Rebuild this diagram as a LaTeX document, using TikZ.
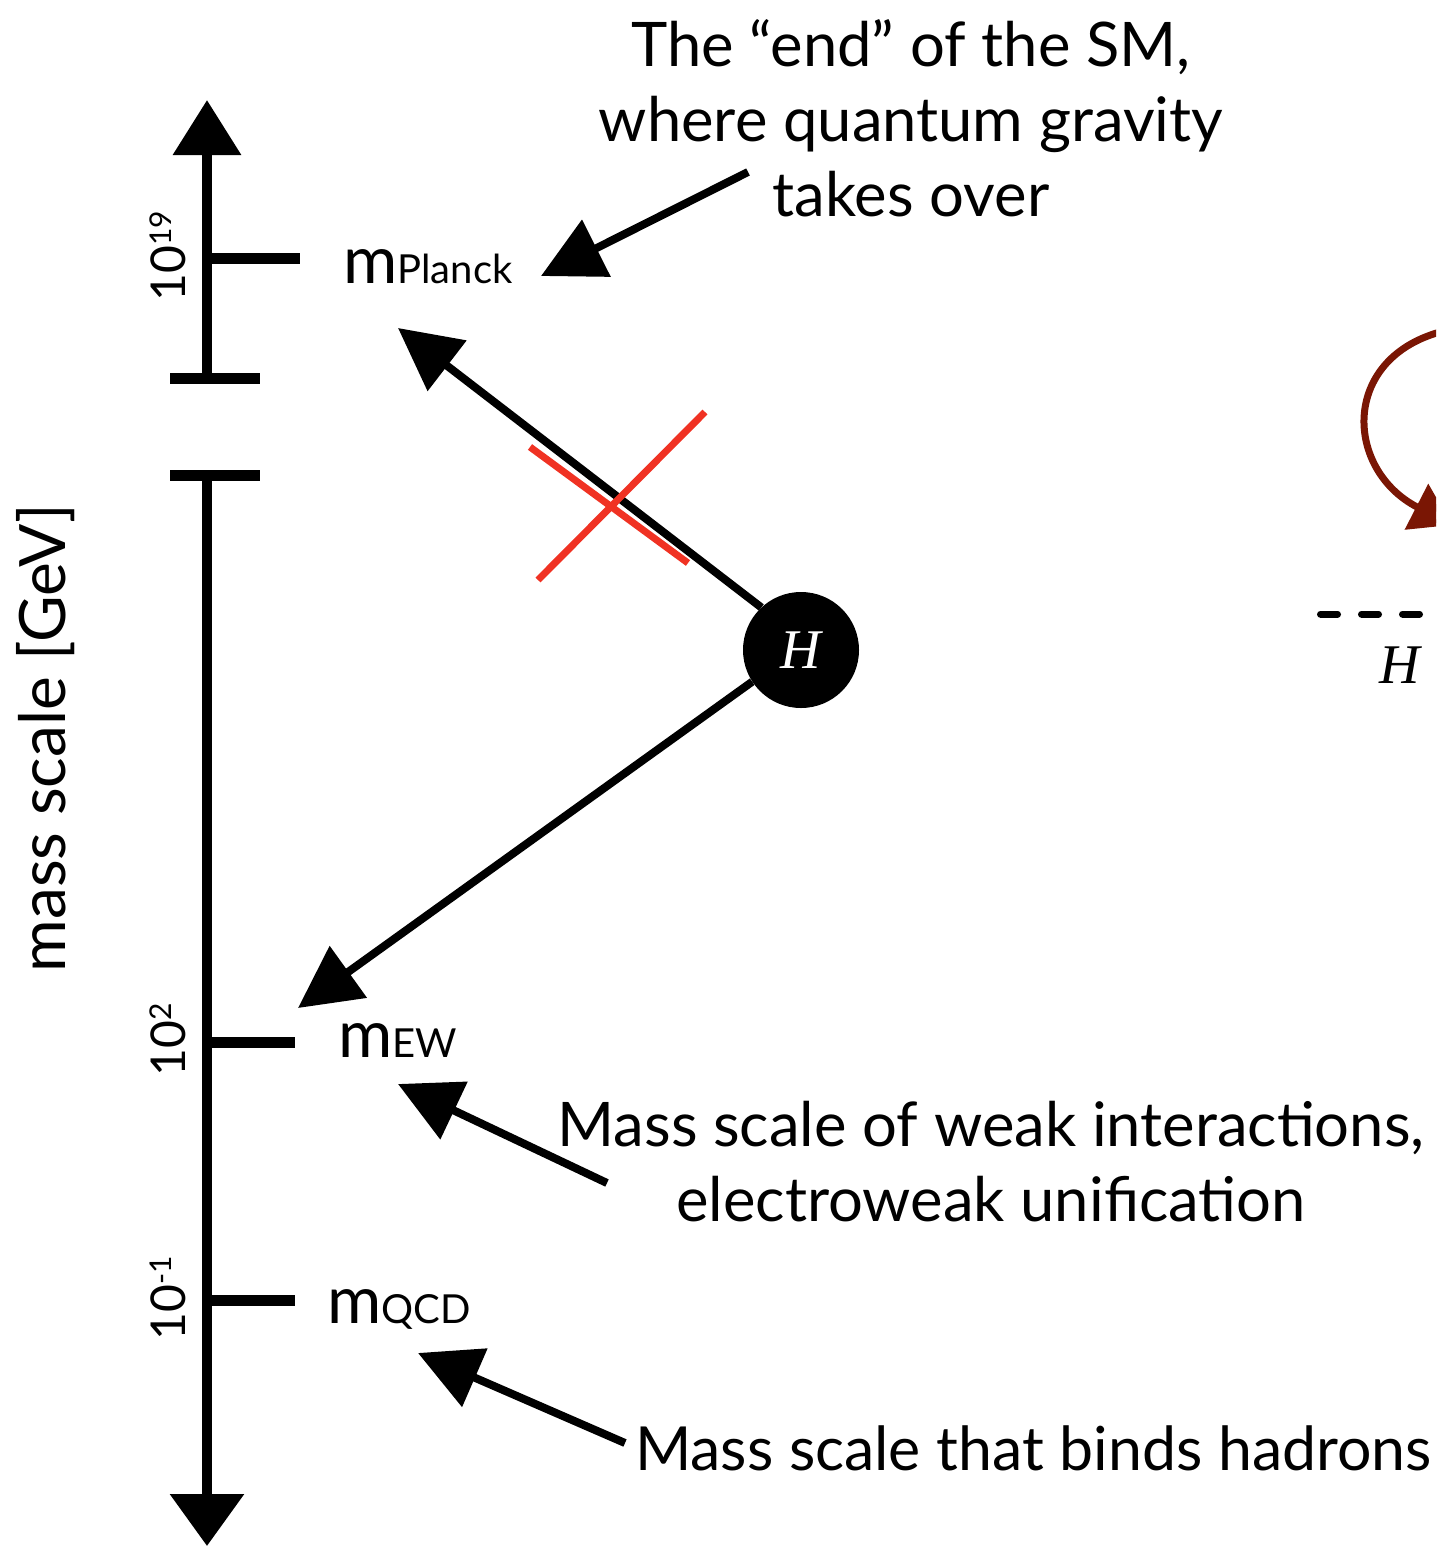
\documentclass[tikz,border=0pt]{standalone}
\usepackage{fontspec}
\setmainfont{Lato}
\newfontfamily\hfont{Liberation Serif}
\usetikzlibrary{arrows.meta}
\definecolor{loopred}{RGB}{122,22,4}
\definecolor{xred}{RGB}{240,50,35}
\tikzset{
  axisline/.style={line width=10pt, black},
  tickbar/.style={line width=11pt, black},
  bigarrow/.style={line width=8pt, black, -{Triangle[length=62pt,width=62pt]}},
  lbl/.style={inner sep=0pt, font=\fontsize{61.5}{76}\selectfont},
  mlbl/.style={inner sep=0pt, anchor=base west},
  rotlbl/.style={inner sep=0pt, rotate=90, font=\fontsize{48}{56}\selectfont},
}
\begin{document}
\begin{tikzpicture}[x=1pt,y=-1pt]
\path[use as bounding box] (0,0) rectangle (1436,1548);
\clip (0,0) rectangle (1436,1548);

% axis coordinates
\coordinate (atop) at (207,100);
\coordinate (abar1) at (207,378);
\coordinate (abar2) at (207,475);
\coordinate (abot) at (207,1546);

% axis
\draw[axisline, -{Triangle[length=55pt,width=66pt]}] (abar1) -- (atop);
\draw[axisline, -{Triangle[length=52pt,width=72pt]}] (abar2) -- (abot);
\draw[tickbar] (170,378) -- (260,378);
\draw[tickbar] (170,475) -- (260,475);

% ticks
\coordinate (t19) at (207,258);
\coordinate (t2) at (207,1042);
\coordinate (tm1) at (207,1300);
\draw[tickbar] (t19) -- ++(93,0);
\draw[tickbar] (t2) -- ++(88,0);
\draw[tickbar] (tm1) -- ++(88,0);

% rotated tick labels
\node[rotlbl] (l19) at (168,256) {10\raisebox{0.6ex}{\fontsize{30}{36}\selectfont 19}};
\node[rotlbl] (l2) at (168,1040) {10\raisebox{0.6ex}{\fontsize{30}{36}\selectfont 2}};
\node[rotlbl] (lm1) at (168,1298) {10\raisebox{0.6ex}{\fontsize{30}{36}\selectfont -1}};

% axis title
\node[rotlbl, font=\fontsize{64}{70}\selectfont] (title) at (46,738) {mass scale [GeV]};

% m labels
\node[mlbl] (mpl) at (343,283) {\fontsize{66}{70}\selectfont m\fontsize{40}{50}\selectfont Planck};
\node[mlbl] (mew) at (338,1057) {\fontsize{66}{70}\selectfont m\fontsize{40}{50}\selectfont EW};
\node[mlbl] (mqcd) at (327,1323) {\fontsize{66}{70}\selectfont m\fontsize{40}{50}\selectfont QCD};

% Higgs node
\node[circle, fill=black, minimum size=116pt, inner sep=0pt] (H) at (801,650)
  {\color{white}\hfont\itshape\fontsize{56}{60}\selectfont H};

% arrows from H
\coordinate (tipPl) at (398,328);
\coordinate (tipEW) at (298,1008);
\draw[bigarrow] (H.133) -- (tipPl);
\draw[bigarrow] (H.213) -- (tipEW);

% red cross
\coordinate (xa1) at (530,447);
\coordinate (xa2) at (688,563);
\coordinate (xb1) at (538,580);
\coordinate (xb2) at (705,412);
\draw[xred, line width=7pt] (xa1) -- (xa2);
\draw[xred, line width=7pt] (xb1) -- (xb2);

% top annotation
\node[lbl, align=center] (topt) at (911,118)
  {The “end” of the SM,\\[-1pt] where quantum gravity\\[-1pt] takes over};
\coordinate (topstart) at (748,172);
\coordinate (toptip) at (541,276);
\draw[bigarrow] (topstart) -- (toptip);

% EW annotation
\node[lbl, align=center] (ewt) at (991,1162)
  {Mass scale of weak interactions,\\[-1pt] electroweak unification};
\coordinate (ewstart) at (607,1183);
\coordinate (ewtip) at (398,1084);
\draw[bigarrow] (ewstart) -- (ewtip);

% QCD annotation
\node[lbl, anchor=east, font=\fontsize{60.8}{70}\selectfont] (qcdt) at (1432,1448) {Mass scale that binds hadrons};
\coordinate (qcdstart) at (625,1443);
\coordinate (qcdtip) at (418,1353);
\draw[bigarrow] (qcdstart) -- (qcdtip);

% right side fragment
\coordinate (dstart) at (1320.5,614);
\coordinate (dend) at (1420,614);
\draw[line width=7pt, dash pattern=on 17pt off 24pt, line cap=round] (dstart) -- (dend);
\node[inner sep=0pt, font=\hfont\itshape\fontsize{56}{60}\selectfont] (Hr) at (1400,665) {H};
\coordinate (lstart) at (1440,332);
\coordinate (ltip) at (1452,525);
\draw[loopred, line width=7pt, -{Triangle[length=40pt,width=50pt]}]
  (lstart) .. controls (1340,360) and (1345,470) .. (ltip);
\end{tikzpicture}
\end{document}
